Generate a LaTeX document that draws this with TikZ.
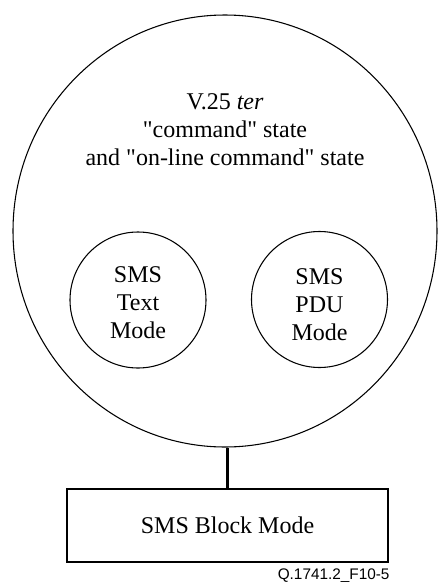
\documentclass[tikz,border=0pt]{standalone}
\usepackage{fontspec}
\setmainfont{Liberation Serif}[Ligatures=TeXOff]
\newfontfamily\capfont{Liberation Sans}
\usetikzlibrary{shapes.geometric}
\begin{document}
\begin{tikzpicture}[x=0.75pt,y=-0.75pt,
  line width=0.8pt,
  lbl/.style={font=\fontsize{18}{21}\selectfont, align=center, inner sep=0pt},
  modecircle/.style={draw, circle, minimum size=102pt, inner sep=0pt},
  blockbox/.style={draw, minimum width=240.75pt, minimum height=54.75pt, inner sep=0pt, font=\fontsize{18}{21}\selectfont}]
\useasboundingbox (0,0) rectangle (439,582);
\node (big) [draw, ellipse, minimum width=318pt, minimum height=324pt, inner sep=0pt] at (225,231) {};
\node (title) [lbl] at (225,130) {V.25 \textit{ter}\\"command" state\\and "on-line command" state};
\node (textc) [modecircle] at (138,300) {};
\node (pduc) [modecircle] at (319.5,299.5) {};
\node (textl) [lbl] at (138,303) {SMS\\Text\\Mode};
\node (pdul) [lbl] at (319.5,305) {SMS\\PDU\\Mode};
\node (block) [blockbox] at (227.5,525.5) {SMS Block Mode};
\draw[line width=1.6pt] (block.north) -- (block.north |- big.south);
\node (cap) [anchor=base east, inner sep=0pt, font=\capfont\fontsize{11.5}{13}\selectfont] at (390,579) {Q.1741.2\_F10-5};
\end{tikzpicture}
\end{document}
